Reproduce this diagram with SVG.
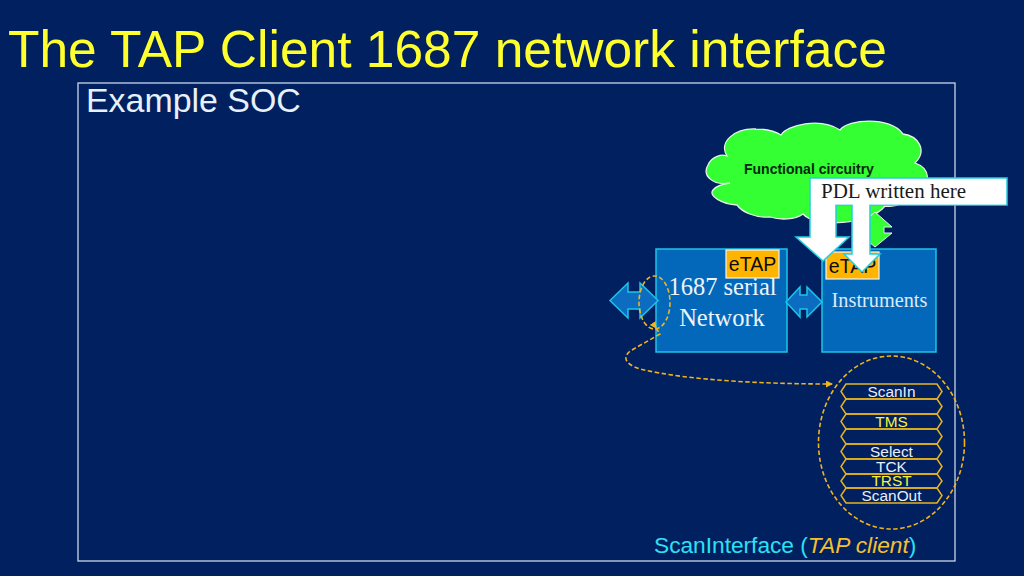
<svg xmlns="http://www.w3.org/2000/svg" width="1024" height="576" viewBox="0 0 1024 576">
<style>
.s{font-family:"Liberation Sans",Arial,sans-serif}
.g{font-family:"Liberation Serif","Times New Roman",serif}
.blue{fill:#0468ba;stroke:#1cc4e8;stroke-width:1.5}
.dbl{fill:#0b6cc0;stroke:#1cc4e8;stroke-width:1.5}
.etap{fill:#ffb400;stroke:#f4f4f4;stroke-width:1.2}
.hex{fill:none;stroke:#e8b41c;stroke-width:1.5}
.dash{fill:none;stroke:#f0b41c;stroke-width:1.6;stroke-dasharray:4.500 2.500}
.wh{fill:#fff;stroke:#25cde0;stroke-width:1.5}
.lab{font-size:15.400px;text-anchor:middle;fill:#e8eefa}
.y{fill:#f4f43c}
</style>
<defs>
<marker id="ah" markerWidth="8" markerHeight="8" refX="6" refY="3.500" orient="auto" markerUnits="userSpaceOnUse"><path d="M0 0L7 3.500L0 7Z" fill="#f0b41c"/></marker>
</defs>
<rect width="1024" height="576" fill="#002060"/>
<text class="s" x="8" y="67" font-size="51.500" fill="#ffff2e">The TAP Client 1687 network interface</text>
<g id="soc"><rect x="78" y="83" width="877" height="478" fill="none" stroke="#c9d6ea" stroke-width="1.3"/>
<text class="s" x="86" y="112" font-size="33.900" fill="#e8f0fa">Example SOC</text></g>
<g id="cloud">
<path d="M730 183C712 186 702 175 708 165C712 156 722 154 727 156C718 142 735 128 756 129C766 129 775 131 781 135C787 125 820 117 840 130C848 119 890 116 903 134C918 136 928 150 915 163C931 168 932 185 915 190C908 203 895 208 885 206C870 225 815 228 803 214C795 220 780 220 770 217C755 218 742 212 737 205C722 204 708 196 713 190C716 186 722 184 730 183Z" fill="#33ff33" stroke="#e8f4e8" stroke-width="1.300"/>
<text class="s" x="744" y="174" font-size="14" font-weight="bold" fill="#06280c">Functional circuitry</text></g>
<g id="green-arrow"><path d="M875 212L892 227H884V233H892L875 247L858 233H866V227H858Z" fill="#33ff33" stroke="#e8f4e8" stroke-width="1"/></g>
<g id="network"><rect class="blue" x="656" y="249" width="131" height="103"/>
<text class="g" x="722.500" y="295" font-size="24.500" text-anchor="middle" fill="#eef4fb">1687 serial</text>
<text class="g" x="722" y="326" font-size="24.500" text-anchor="middle" fill="#eef4fb">Network</text></g>
<g id="etap1"><rect class="etap" x="726" y="250" width="53" height="28"/>
<text class="s" x="752.500" y="271" font-size="19.500" text-anchor="middle" fill="#0c0c0c">eTAP</text></g>
<g id="instruments"><rect class="blue" x="822" y="249" width="114" height="103"/>
<text class="g" x="879.500" y="307" font-size="20.300" text-anchor="middle" fill="#dceaf8">Instruments</text></g>
<g id="etap2"><rect class="etap" x="826" y="252" width="53" height="27"/>
<text class="s" x="852.500" y="273" font-size="19.500" text-anchor="middle" fill="#0c0c0c">eTAP</text></g>
<g id="pdl">
<rect class="wh" x="810" y="178" width="197" height="27"/>
<path class="wh" d="M810 205V237H796L823 261L849 237H836V205"/>
<path class="wh" d="M852 205V254H844L862 272L880 254H870V205"/>
<rect x="811" y="179" width="195" height="25.500" fill="#fff"/>
<rect x="811" y="204" width="24" height="3" fill="#fff"/><rect x="853" y="204" width="16" height="3" fill="#fff"/>
<text class="g" x="821" y="198" font-size="21" fill="#1a1a1a">PDL written here</text></g>
<g id="connectors">
<path class="dbl" d="M610 300.500L628 283V292H640V283L658 300.500L640 318V309H628V318Z"/>
<path class="dbl" d="M786 302L800 287V295H807V287L822 302L807 317V309H800V317Z"/>
<ellipse class="dash" cx="654.500" cy="302.500" rx="15.500" ry="26.500"/>
<path class="dash" marker-start="url(#ah)" marker-end="url(#ah)" d="M656 328L660 334L632 350C622 356 624 364 640 369C690 381 770 384 832 384"/>
<ellipse class="dash" cx="891.500" cy="442.500" rx="73" ry="86.500"/>
</g>
<g id="scan-interface">
<path class="hex" d="M846 384H937L942 391.500L937 399H846L841 391.500Z"/>
<path class="hex" d="M846 399H937L942 406.500L937 414H846L841 406.500Z"/>
<path class="hex" d="M846 414H937L942 421.500L937 429H846L841 421.500Z"/>
<path class="hex" d="M846 429H937L942 436.500L937 444H846L841 436.500Z"/>
<path class="hex" d="M846 444H937L942 451.500L937 459H846L841 451.500Z"/>
<path class="hex" d="M846 459H937L942 466.500L937 474H846L841 466.500Z"/>
<path class="hex" d="M846 474H937L942 481L937 488H846L841 481Z"/>
<path class="hex" d="M846 488H937L942 495.500L937 503H846L841 495.500Z"/>
<text class="s lab" x="891.500" y="397">ScanIn</text>
<text class="s lab y" x="891.500" y="427">TMS</text>
<text class="s lab" x="891.500" y="457">Select</text>
<text class="s lab" x="891.500" y="472">TCK</text>
<text class="s lab y" x="891.500" y="486">TRST</text>
<text class="s lab" x="891.500" y="501">ScanOut</text>
<text class="s" x="654" y="553" font-size="22.700" fill="#2ee0f4">ScanInterface (<tspan font-style="italic" fill="#f4c030">TAP client</tspan>)</text>
</g>
</svg>
